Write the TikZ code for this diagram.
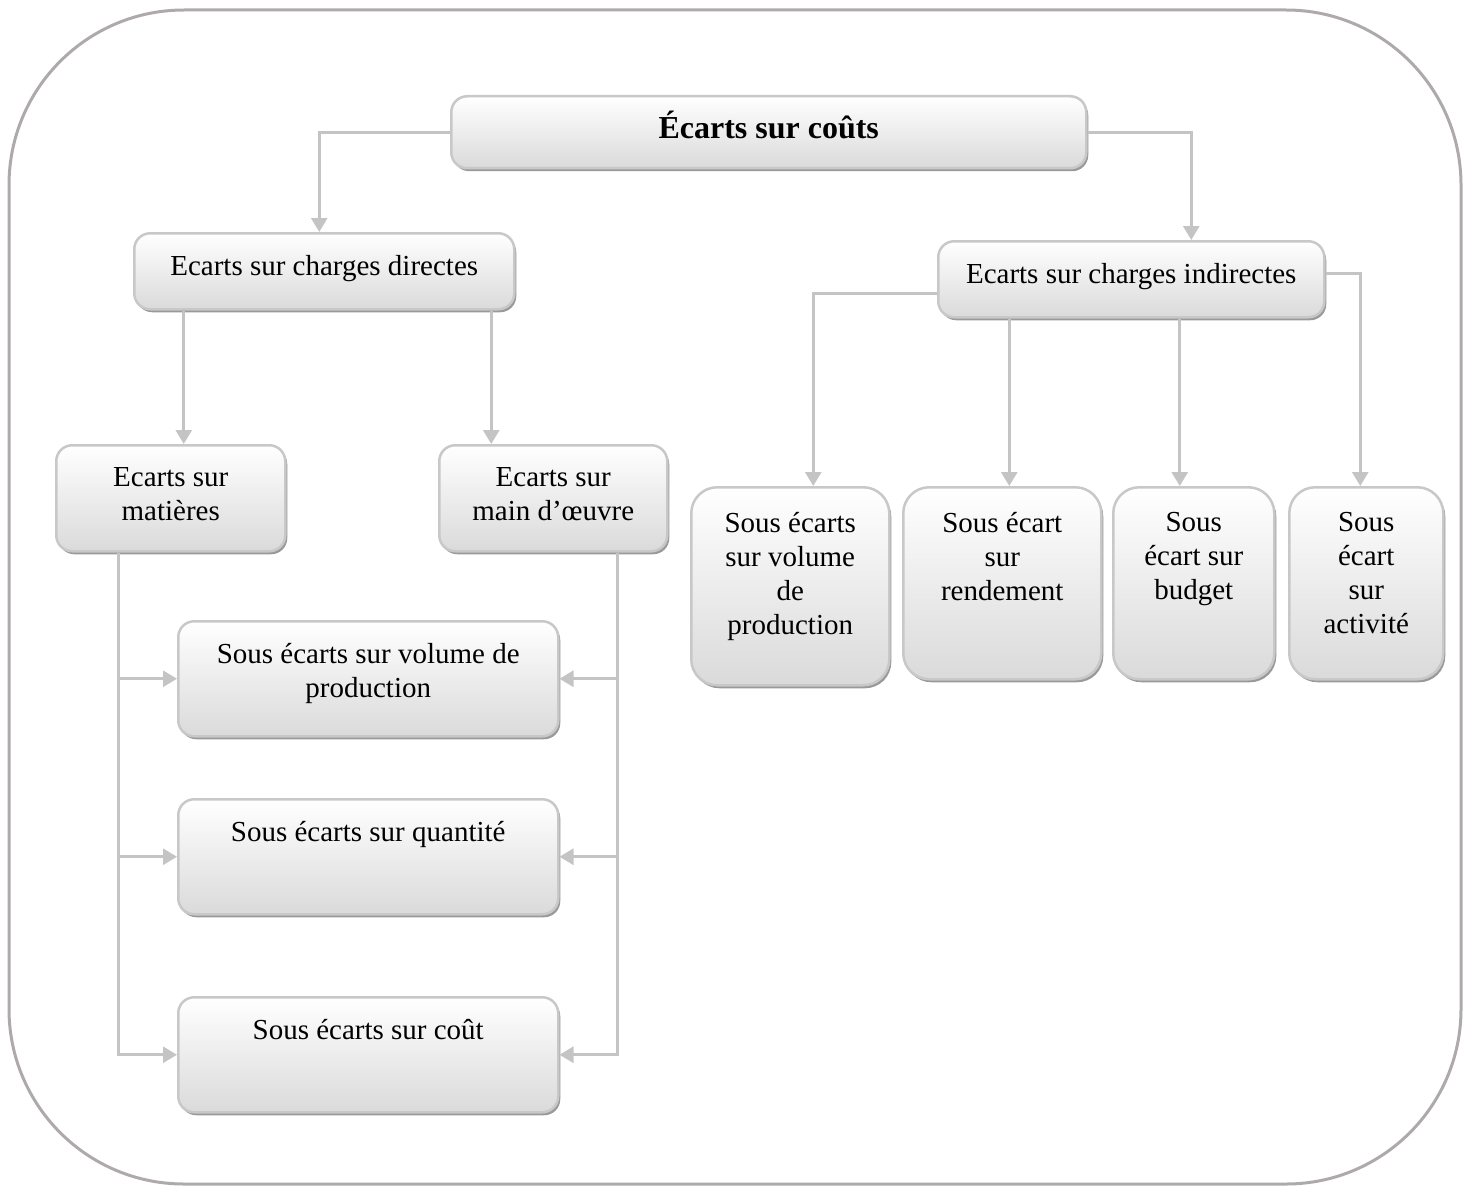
\documentclass[tikz,border=0pt]{standalone}
\usepackage{fontspec}
\setmainfont{Liberation Serif}
\usetikzlibrary{arrows.meta,shadows}

\definecolor{edgegray}{HTML}{C8C8C8}
\definecolor{fillgray}{HTML}{DADADA}
\definecolor{linkgray}{HTML}{C4C4C4}
\definecolor{framegray}{HTML}{AEAAAA}

\begin{document}
\begin{tikzpicture}[x=1pt, y=-1pt,
  box/.style 2 args={draw=edgegray, line width=2.5pt, rounded corners=16pt,
    top color=white, bottom color=fillgray, anchor=north west,
    inner xsep=0pt, inner ysep=22pt, font=\fontsize{29}{34}\selectfont,
    drop shadow={shadow xshift=2pt, shadow yshift=-3pt, fill=black!50, opacity=0.8},
    execute at begin node={\begin{minipage}[t][\dimexpr#2pt-44pt\relax][t]{#1pt}\centering},
    execute at end node={\end{minipage}}},
  tall/.style={rounded corners=26pt, inner ysep=25pt},
  conn/.style={draw=linkgray, line width=2.8pt, -{Triangle[width=16pt,length=14pt]}},
  frame/.style={draw=framegray, line width=3pt, rounded corners=175pt}
]
\useasboundingbox (0,0) rectangle (1471,1185);
\draw[frame] (9,10) rectangle (1461,1184);

% top level
\node[box={635}{86}, inner ysep=15pt, font=\bfseries\fontsize{32}{36}\selectfont] (top) at (450,95) {Écarts sur coûts};

% second level
\node[box={380}{76}] (direct) at (133,232) {Ecarts sur charges directes};
\node[box={386}{76}] (indirect) at (937,240) {Ecarts sur charges indirectes};

% direct costs
\node[box={229}{106}] (mat) at (55,444) {Ecarts sur\\matières};
\node[box={228}{106}] (mo) at (438,444) {Ecarts sur\\main d’œuvre};
\node[box={380}{115}] (svp) at (177,620) {Sous écarts sur volume de\\production};
\node[box={380}{115}] (sq) at (177,798) {Sous écarts sur quantité};
\node[box={380}{115}] (sc) at (177,996) {Sous écarts sur coût};

% indirect costs
\node[box={198}{192}, tall] (ivp) at (690,486) {Sous écarts\\sur volume\\de\\production};
\node[box={198}{186}, tall] (ir) at (902,486) {Sous écart\\sur\\rendement};
\node[box={161}{186}, tall] (ib) at (1112,486) {Sous\\écart sur\\budget};
\node[box={154}{186}, tall] (ia) at (1288,486) {Sous\\écart\\sur\\activité};

% links
\draw[conn] (top.west) -| ([xshift=-5pt]direct.north);
\draw[conn] (top.east) -| ([xshift=60pt]indirect.north);
\draw[conn] ([xshift=13pt]mat.north |- direct.south) -- ([xshift=13pt]mat.north);
\draw[conn] ([xshift=-62pt]mo.north |- direct.south) -- ([xshift=-62pt]mo.north);
\draw[conn] ([yshift=-14pt]indirect.west) -| ([xshift=23pt]ivp.north);
\draw[conn] ([xshift=7pt]ir.north |- indirect.south) -- ([xshift=7pt]ir.north);
\draw[conn] ([xshift=-14pt]ib.north |- indirect.south) -- ([xshift=-14pt]ib.north);
\draw[conn] ([yshift=6pt]indirect.east) -| ([xshift=-6pt]ia.north);

\draw[conn] ([xshift=-52pt]mat.south) |- (sc.west);
\draw[conn] ([xshift=-52pt]mat.south |- svp.west) -- (svp.west);
\draw[conn] ([xshift=-52pt]mat.south |- sq.west) -- (sq.west);
\draw[conn] ([xshift=64pt]mo.south) |- (sc.east);
\draw[conn] ([xshift=64pt]mo.south |- svp.east) -- (svp.east);
\draw[conn] ([xshift=64pt]mo.south |- sq.east) -- (sq.east);

\end{tikzpicture}
\end{document}
